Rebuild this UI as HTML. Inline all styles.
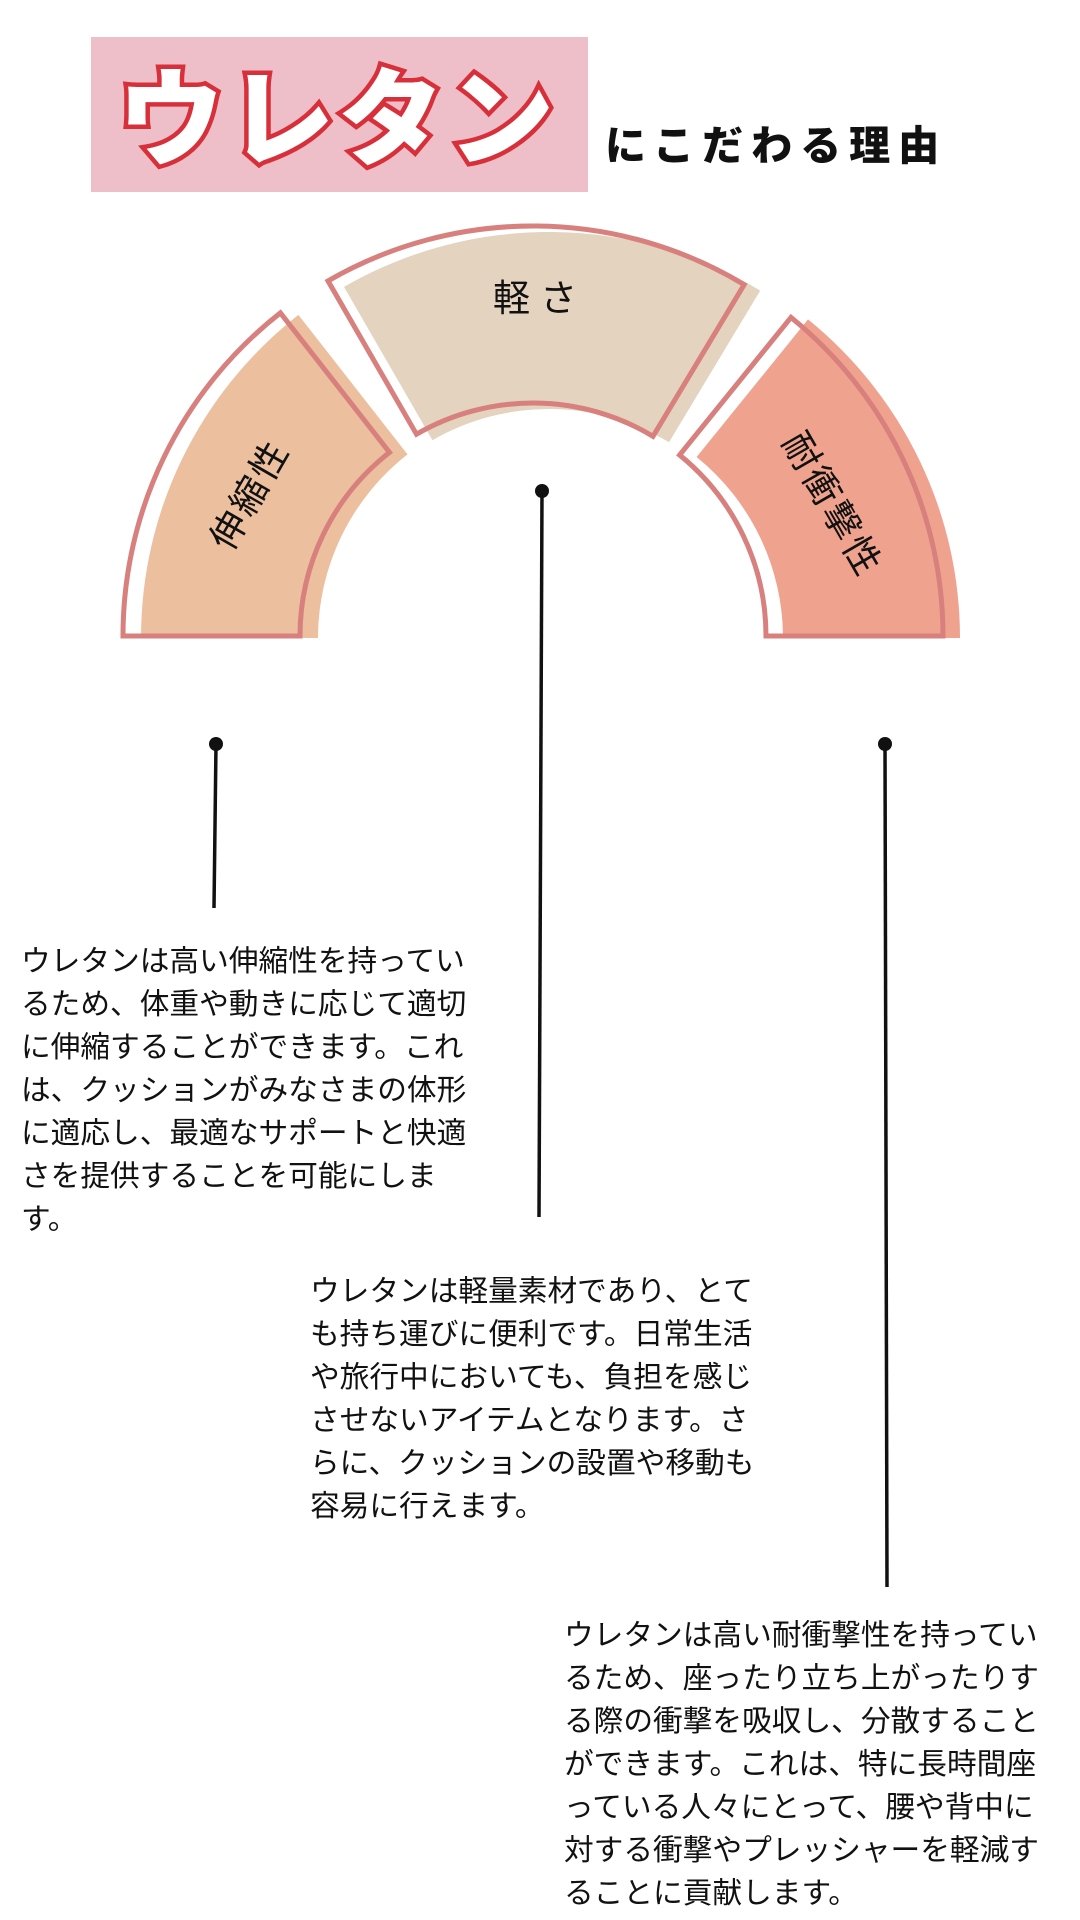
<!DOCTYPE html>
<html><head><meta charset="utf-8">
<style>
html,body{margin:0;padding:0;background:#fff;}
body{width:1080px;height:1920px;position:relative;overflow:hidden;font-family:"Liberation Sans","Noto Sans CJK JP",sans-serif;}
.tb{position:absolute;font-size:29.7px;line-height:43px;color:#111;white-space:nowrap;}
</style></head><body>
<div style="position:absolute;left:91px;top:37px;width:497px;height:155px;background:#eebfc8;"></div>
<svg width="1080" height="1920" style="position:absolute;left:0;top:0">
<text x="338" y="157" text-anchor="middle" font-family="Noto Sans CJK JP, sans-serif" font-weight="900" font-size="106" fill="#fff" stroke="#d8303a" stroke-width="9" paint-order="stroke" letter-spacing="4">ウレタン</text>
<text x="605" y="160" font-family="Noto Sans CJK JP, sans-serif" font-weight="900" font-size="41" fill="#111" letter-spacing="8">にこだわる理由</text>

<g transform="translate(18,2)">
<path d="M123,636 A410,410 0 0 1 280.4,312.9 L389.5,452.4 A233,233 0 0 0 300,636 Z" fill="#ecbf9f"/>
</g>
<g transform="translate(16,6)">
<path d="M328,280.9 A410,410 0 0 1 744.2,284.6 L653,436.3 A233,233 0 0 0 416.5,434.2 Z" fill="#e3d3bf"/>
</g>
<g transform="translate(17,2)">
<path d="M791,317.4 A410,410 0 0 1 943,636 L766,636 A233,233 0 0 0 679.6,455 Z" fill="#efa38f"/>
</g>
<g fill="none" stroke="#d7807e" stroke-width="5">
<path d="M123,636 A410,410 0 0 1 280.4,312.9 L389.5,452.4 A233,233 0 0 0 300,636 Z"/>
<path d="M328,280.9 A410,410 0 0 1 744.2,284.6 L653,436.3 A233,233 0 0 0 416.5,434.2 Z"/>
<path d="M791,317.4 A410,410 0 0 1 943,636 L766,636 A233,233 0 0 0 679.6,455 Z"/>
</g>
<g font-family="Noto Sans CJK JP, sans-serif" font-size="37" fill="#111" text-anchor="middle" dominant-baseline="central">
<text x="247" y="493" transform="rotate(-60 247 493)" letter-spacing="3">伸縮性</text>
<text x="540" y="295" letter-spacing="10">軽さ</text>
<text x="835" y="503" transform="rotate(60 835 503)" letter-spacing="3">耐衝撃性</text>
</g>
<g stroke="#111" stroke-width="3.5">
<line x1="216" y1="744" x2="214" y2="908"/>
<line x1="542" y1="491" x2="539" y2="1217"/>
<line x1="885" y1="744" x2="887" y2="1587"/>
</g>
<g fill="#111">
<circle cx="216" cy="744" r="7"/>
<circle cx="542" cy="491" r="7"/>
<circle cx="885" cy="744" r="7"/>
</g>
</svg>
<div class="tb" style="left:21px;top:940px;">ウレタンは高い伸縮性を持ってい<br>るため、体重や動きに応じて適切<br>に伸縮することができます。これ<br>は、クッションがみなさまの体形<br>に適応し、最適なサポートと快適<br>さを提供することを可能にしま<br>す。</div>
<div class="tb" style="left:310px;top:1270px;">ウレタンは軽量素材であり、とて<br>も持ち運びに便利です。日常生活<br>や旅行中においても、負担を感じ<br>させないアイテムとなります。さ<br>らに、クッションの設置や移動も<br>容易に行えます。</div>
<div class="tb" style="left:564px;top:1614px;">ウレタンは高い耐衝撃性を持ってい<br>るため、座ったり立ち上がったりす<br>る際の衝撃を吸収し、分散すること<br>ができます。これは、特に長時間座<br>っている人々にとって、腰や背中に<br>対する衝撃やプレッシャーを軽減す<br>ることに貢献します。</div>
</body></html>
